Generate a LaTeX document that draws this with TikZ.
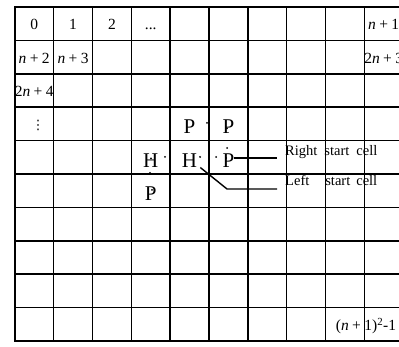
\documentclass[tikz,border=0pt]{standalone}
\usepackage{fontspec}
\setmainfont{Liberation Serif}
\newfontfamily\dejavu{DejaVu Sans}
\usetikzlibrary{positioning}
\newcommand{\padplus}{\kern0.22em+\kern0.22em}

\begin{document}
\begin{tikzpicture}[
  x=1pt, y=-1pt,
  gridline/.style={line width=1.5pt, draw=black},
  frame/.style={line width=2pt, draw=black},
  num/.style={font=\fontsize{15.5}{15.5}\selectfont, inner sep=0pt, anchor=base, yshift=-6pt},
  piece/.style={font=\fontsize{21}{21}\selectfont, inner sep=0pt, anchor=base, yshift=-10pt},
  note/.style={font=\fontsize{14.5}{14.5}\selectfont, inner sep=0pt, anchor=base west},
  lead/.style={line width=1.4pt, draw=black}
]
\useasboundingbox (0,0) rectangle (399,347);
\clip (0,0) rectangle (399,347);

% cell centres
\foreach \c in {0,...,9} {
  \foreach \r in {0,...,9} {
    \coordinate (c\c-\r) at ({14.8+(\c+0.5)*38.83}, {7+(\r+0.5)*33.4});
  }
}

% grid
\foreach \i in {1,...,9} {
  \draw[gridline] ({14.8+\i*38.83}, 7) -- ({14.8+\i*38.83}, 341);
  \draw[gridline] (14.8, {7+\i*33.4}) -- (404, {7+\i*33.4});
}
\draw[frame] (404,7) -- (14.8,7) -- (14.8,341) -- (404,341);

% cell numbers
\node[num] (n0) at (c0-0) {0};
\node[num] (n1) at (c1-0) {1};
\node[num] (n2) at (c2-0) {2};
\node[num] (ndots) at (c3-0) {...};
\node[num] (nlast) at (c9-0) {\textit{n}\padplus1};
\node[num] (nn2) at (c0-1) {\textit{n}\padplus2};
\node[num] (nn3) at (c1-1) {\textit{n}\padplus3};
\node[num] (n2n3) at (c9-1) {2\textit{n}\padplus3};
\node[num] (n2n4) at (c0-2) {2\textit{n}\padplus4};
\node[num, xshift=4pt, font=\dejavu\fontsize{13}{13}\selectfont] (nvdots) at (c0-3) {⋮};
\node[num] (nend) at (366,324.3) {(\textit{n}\padplus1)\textsuperscript{2}-1};

% pieces
\node[piece] (p43) at (c4-3) {P};
\node[piece] (p53) at (c5-3) {P};
\node[piece] (h34) at (c3-4) {H};
\node[piece] (h44) at (c4-4) {H};
\node[piece] (p54) at (c5-4) {P};
\node[piece] (p35) at (c3-5) {P};

% small marks
\foreach \p in {(207,123),(227,128.5),(227,148),(151,158.5),(165,157),(200,157),(216,157),(226,158),(150,173),(152,190)} {
  \fill \p circle (1pt);
}

% start cell labels
\node[note] (rstart) at (285,155.5) {Right\hspace{7pt}start\hspace{7pt}cell};
\node[note] (lstart) at (285,186) {Left\hspace{16pt}start\hspace{6pt}cell};
\coordinate (rend) at (277,158);
\coordinate (lbend) at (227,189);
\coordinate (lend) at (277,189);
\draw[lead] (p54.east |- rend) -- (rend);
\draw[lead] ([xshift=3pt]h44.south east) -- (lbend) -- (lend);

\end{tikzpicture}
\end{document}
